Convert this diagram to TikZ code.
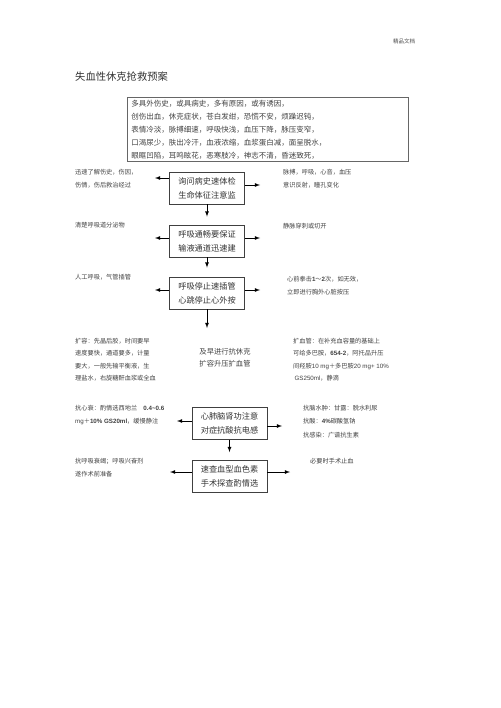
\documentclass[tikz,border=0pt]{standalone}
\usepackage{fontspec}
\setmainfont{Noto Sans CJK SC}
\newfontfamily\latinsf{Liberation Sans}
\begin{document}
\begin{tikzpicture}[x=1pt,y=-1pt,
    box/.style={draw=black!75,line width=.8pt,minimum width=75,minimum height=32,
        align=center,inner sep=0,text=black!80,font=\fontsize{8.2}{14}\selectfont},
    side/.style={anchor=north west,align=left,inner sep=0,text=black!75,
        font=\fontsize{6.2}{13.3}\selectfont},
    arr/.style={-latex,line width=.8pt}]
    \useasboundingbox (0,0) rectangle (500,708);
    \node[text=black!70,font=\fontsize{5.5}{6}\selectfont] (hdr) at (404,41) {精品文档};
    \node[anchor=west,inner sep=0,text=black!80,font=\fontsize{10.3}{12}\selectfont] (title) at (75,77) {失血性休克抢救预案};
    \node[draw=black!60,line width=.6pt,anchor=north west,minimum width=281,minimum height=64,
        text width=273,align=left,inner xsep=4,inner ysep=0,text=black!75,
        font=\fontsize{7.5}{13}\selectfont] (sym) at (127,97)
        {多具外伤史，或具病史，多有原因，或有诱因，\\
         创伤出血，休克症状，苍白发绀，恐慌不安，烦躁迟钝，\\
         表情冷淡，脉搏细速，呼吸快浅，血压下降，脉压变窄，\\
         口渴尿少，肤出冷汗，血液浓缩，血浆蛋白减，面呈脱水，\\
         眼眶凹陷，耳鸣眩花，恶寒肢冷，神志不清，昏迷致死，};
    % main steps
    \node[box] (q1) at (207,188) {询问病史速体检\\生命体征注意监};
    \node[box] (q2) at (207,241) {呼吸通畅要保证\\输液通道迅速建};
    \node[box] (q3) at (207,293) {呼吸停止速插管\\心跳停止心外按};
    \node[inner sep=0,align=left,text=black!75,font=\fontsize{7.3}{11.5}\selectfont] (m4) at (225,357.5) {及早进行抗休克\\扩容升压扩血管};
    \node[box] (q5) at (229.5,423.5) {心肺脑肾功注意\\对症抗酸抗电感};
    \node[box] (q6) at (229.5,476.5) {速查血型血色素\\手术探查酌情选};
    % side notes
    \node[side] (l1) at (75,169) {迅速了解伤史，伤因，\\伤情，伤后救治经过};
    \node[side] (r1) at (283,169) {脉搏，呼吸，心音，血压\\意识反射，瞳孔变化};
    \node[side] (l2) at (75,222) {清楚呼吸道分泌物};
    \node[side] (r2) at (283,223) {静脉穿刺或切开};
    \node[side] (l3) at (75,274) {人工呼吸，气管插管};
    \node[side] (r3) at (287,276) {心前拳击{\latinsf\bfseries 1}～{\latinsf\bfseries 2}次，如无效，\\立即进行胸外心脏按压};
    \node[side,font=\fontsize{6.2}{12.3}\selectfont] (l4) at (75,338) {扩容：先晶后胶，时间要早\\速度要快，通道要多，计量\\要大，一般先输平衡液，生\\理盐水，右旋糖酐血浆或全血};
    \node[side,font=\fontsize{6.2}{12.3}\selectfont] (r4) at (293,338) {扩血管：在补充血容量的基础上\\可给多巴胺，{\latinsf\bfseries 654-2}，阿托品升压\\间羟胺{\latinsf 10 mg}＋多巴胺{\latinsf 20 mg+ 10\%}\\ \ {\latinsf GS250ml}，静滴};
    \node[side] (l5) at (75,405) {抗心衰：酌情选西地兰\quad{\latinsf\bfseries 0.4\textasciitilde0.6}\\{\latinsf mg}＋{\latinsf\bfseries 10\% GS20ml}，缓慢静注};
    \node[side] (r5) at (303,405) {抗脑水肿：甘露：脱水利尿\\抗酸：{\latinsf\bfseries 4\%}碳酸氢钠\\抗感染：广谱抗生素};
    \node[side] (l6) at (75,458) {抗呼吸衰竭；呼吸兴奋剂\\遂作术前准备};
    \node[side] (r6) at (310,458) {必要时手术止血};
    % arrow ends
    \coordinate (a1) at (155,178); \coordinate (b1) at (260,185);
    \coordinate (a2) at (155,238); \coordinate (b2) at (260,238);
    \coordinate (a3) at (155,290); \coordinate (b3) at (260,290);
    \coordinate (d3) at (207,328);
    \coordinate (a5) at (177,421); \coordinate (b5) at (282,426);
    \coordinate (a6) at (170,472); \coordinate (b6) at (290,472);
    \draw[arr] (q1.west |- a1) -- (a1);
    \draw[arr] (q1.east |- b1) -- (b1);
    \draw[arr] (q2.west |- a2) -- (a2);
    \draw[arr] (q2.east |- b2) -- (b2);
    \draw[arr] (q3.west |- a3) -- (a3);
    \draw[arr] (q3.east |- b3) -- (b3);
    \draw[arr] (q5.west |- a5) -- (a5);
    \draw[arr] (q5.east |- b5) -- (b5);
    \draw[arr] (q6.west |- a6) -- (a6);
    \draw[arr] (q6.east |- b6) -- (b6);
    \draw[arr,shorten >=8] (q1) -- (q2);
    \draw[arr,shorten >=9] (q2) -- (q3);
    \draw[arr] (q3) -- (d3);
    \draw[arr,shorten >=8] (q5) -- (q6);
\end{tikzpicture}
\end{document}
